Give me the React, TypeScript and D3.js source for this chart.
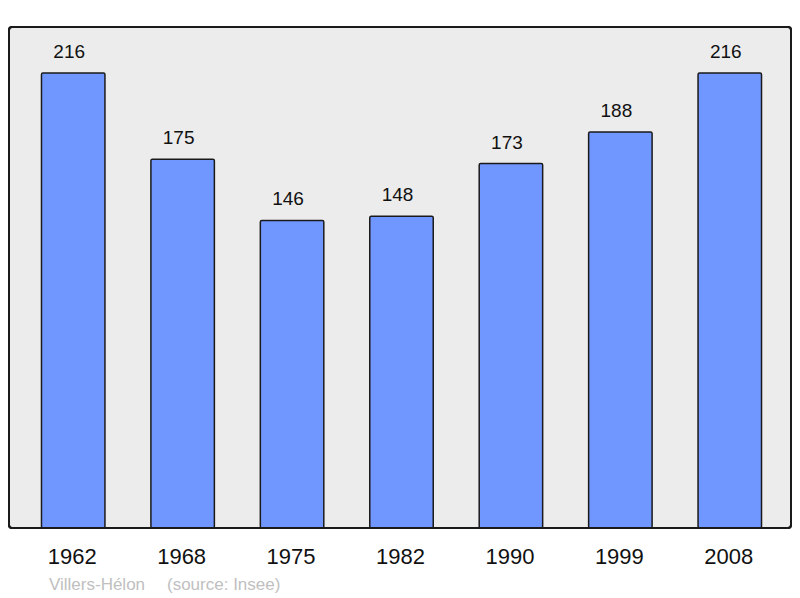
import React from "react";
import * as d3 from "d3";

const years = ["1962", "1968", "1975", "1982", "1990", "1999", "2008"];
const population = [216, 175, 146, 148, 173, 188, 216];
const placeName = "Villers-Hélon";
const sourceText = "(source: Insee)";

export default function App() {
  const W = 800, H = 598;
  const panel = { x0: 9, y0: 27, x1: 791, y1: 528 };
  const x = d3.scaleBand<string>().domain(years).range([18.5, 784.5]).paddingInner(0.42).paddingOuter(0.21);
  const y = d3.scaleLinear().domain([0, 216]).range([panel.y1, 73]);
  const font = "'Liberation Sans', Arial, sans-serif";
  return (
    <svg width={W} height={H} style={{ position: "absolute", left: 0, top: 0 }} fontFamily={font}>
      <rect x={0} y={0} width={W} height={H} fill="#ffffff" />
      <rect x={panel.x0} y={panel.y0} width={panel.x1 - panel.x0} height={panel.y1 - panel.y0}
        fill="#ececec" stroke="#1a1a1a" strokeWidth={2} rx={3} />
      {years.map((yr, i) => {
        const bx = x(yr)!;
        const bw = x.bandwidth();
        const by = y(population[i]);
        return (
          <g key={yr}>
            <rect x={bx} y={by} width={bw} height={panel.y1 - by} fill="#7096ff" stroke="#1a1a1a" strokeWidth={1.5} rx={1.5} />
            <text x={bx + bw / 2 - 4} y={by - 15} textAnchor="middle" fontSize={19} fill="#111">{population[i]}</text>
            <text x={bx + bw / 2 - 1} y={564} textAnchor="middle" fontSize={22} fill="#111">{yr}</text>
          </g>
        );
      })}
      <rect x={panel.x0} y={panel.y0} width={panel.x1 - panel.x0} height={panel.y1 - panel.y0}
        fill="none" stroke="#1a1a1a" strokeWidth={2} rx={3} />
      <text x={49} y={590} fontSize={17} fill="#c0c0c0">{placeName}</text>
      <text x={167} y={590} fontSize={17} fill="#c0c0c0">{sourceText}</text>
    </svg>
  );
}
